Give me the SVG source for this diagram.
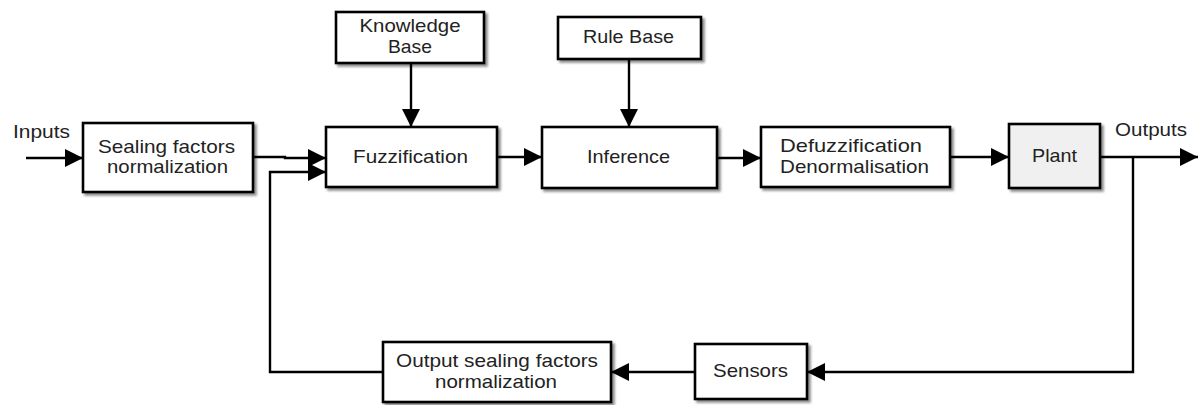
<svg xmlns="http://www.w3.org/2000/svg" width="1200" height="405" viewBox="0 0 1200 405">
  <style>
    .box { fill: #ffffff; stroke: #000000; stroke-width: 2.6; filter: url(#shadow); }
    .plant { fill: #f0f0f0; }
    .lbl { font-family: "Liberation Sans", Arial, sans-serif; font-size: 19px; fill: #222222; text-anchor: middle; }
    .wire { fill: none; stroke: #000000; stroke-width: 2.4; }
    .arrow { marker-end: url(#head); }
  </style>
  <defs>
    <filter id="shadow" x="-10%" y="-10%" width="130%" height="140%">
      <feDropShadow dx="2.5" dy="2.5" stdDeviation="1.3" flood-color="#000000" flood-opacity="0.45"/>
    </filter>
    <marker id="head" markerUnits="userSpaceOnUse" markerWidth="19" markerHeight="18" refX="18" refY="9" orient="auto">
      <path d="M0,0 L18,9 L0,18 Z" fill="#000000"/>
    </marker>
  </defs>

  <rect width="1200" height="405" fill="#ffffff"/>

  <!-- connectors -->
  <g id="connectors">
    <path class="wire arrow" d="M26,158 H83"/>
    <path class="wire arrow" d="M253,157 H285 V158 H326"/>
    <path class="wire arrow" d="M383,372 H270 V172 H326"/>
    <path class="wire arrow" d="M411,63 V127"/>
    <path class="wire arrow" d="M629,59 V127"/>
    <path class="wire arrow" d="M497,157 H542"/>
    <path class="wire arrow" d="M717,158 H761"/>
    <path class="wire arrow" d="M950,157 H1009"/>
    <path class="wire arrow" d="M1100,157 H1198"/>
    <path class="wire arrow" d="M1133,157 V372 H807"/>
    <path class="wire arrow" d="M695,372 H611"/>
  </g>

  <!-- free labels -->
  <g id="io-labels">
    <text class="lbl" x="41.5" y="138" textLength="57" lengthAdjust="spacingAndGlyphs">Inputs</text>
    <text class="lbl" x="1151" y="136" textLength="72" lengthAdjust="spacingAndGlyphs">Outputs</text>
  </g>

  <g id="scaling-in">
    <rect class="box" x="83" y="123" width="170" height="69"/>
    <text class="lbl" x="166.5" y="153" textLength="137" lengthAdjust="spacingAndGlyphs">Sealing factors</text>
    <text class="lbl" x="167.5" y="173" textLength="121" lengthAdjust="spacingAndGlyphs">normalization</text>
  </g>

  <g id="knowledge-base">
    <rect class="box" x="336" y="12" width="148" height="51"/>
    <text class="lbl" x="410" y="32" textLength="101" lengthAdjust="spacingAndGlyphs">Knowledge</text>
    <text class="lbl" x="410" y="53" textLength="44" lengthAdjust="spacingAndGlyphs">Base</text>
  </g>

  <g id="fuzzification">
    <rect class="box" x="326" y="127" width="171" height="60"/>
    <text class="lbl" x="410.5" y="163" textLength="115" lengthAdjust="spacingAndGlyphs">Fuzzification</text>
  </g>

  <g id="rule-base">
    <rect class="box" x="558" y="17" width="143" height="42"/>
    <text class="lbl" x="628.5" y="43" textLength="91" lengthAdjust="spacingAndGlyphs">Rule Base</text>
  </g>

  <g id="inference">
    <rect class="box" x="542" y="127" width="175" height="61"/>
    <text class="lbl" x="628.5" y="163" textLength="83" lengthAdjust="spacingAndGlyphs">Inference</text>
  </g>

  <g id="defuzzification">
    <rect class="box" x="761" y="127" width="189" height="60"/>
    <text class="lbl" x="851" y="152" textLength="142" lengthAdjust="spacingAndGlyphs">Defuzzification</text>
    <text class="lbl" x="854.5" y="173" textLength="149" lengthAdjust="spacingAndGlyphs">Denormalisation</text>
  </g>

  <g id="plant">
    <rect class="box plant" x="1009" y="124" width="91" height="64"/>
    <text class="lbl" x="1054.5" y="162" textLength="45" lengthAdjust="spacingAndGlyphs">Plant</text>
  </g>

  <g id="sensors">
    <rect class="box" x="695" y="344" width="112" height="55"/>
    <text class="lbl" x="750.5" y="377" textLength="75" lengthAdjust="spacingAndGlyphs">Sensors</text>
  </g>

  <g id="scaling-out">
    <rect class="box" x="383" y="342" width="228" height="60"/>
    <text class="lbl" x="497" y="367" textLength="202" lengthAdjust="spacingAndGlyphs">Output sealing factors</text>
    <text class="lbl" x="496" y="388" textLength="122" lengthAdjust="spacingAndGlyphs">normalization</text>
  </g>
</svg>
